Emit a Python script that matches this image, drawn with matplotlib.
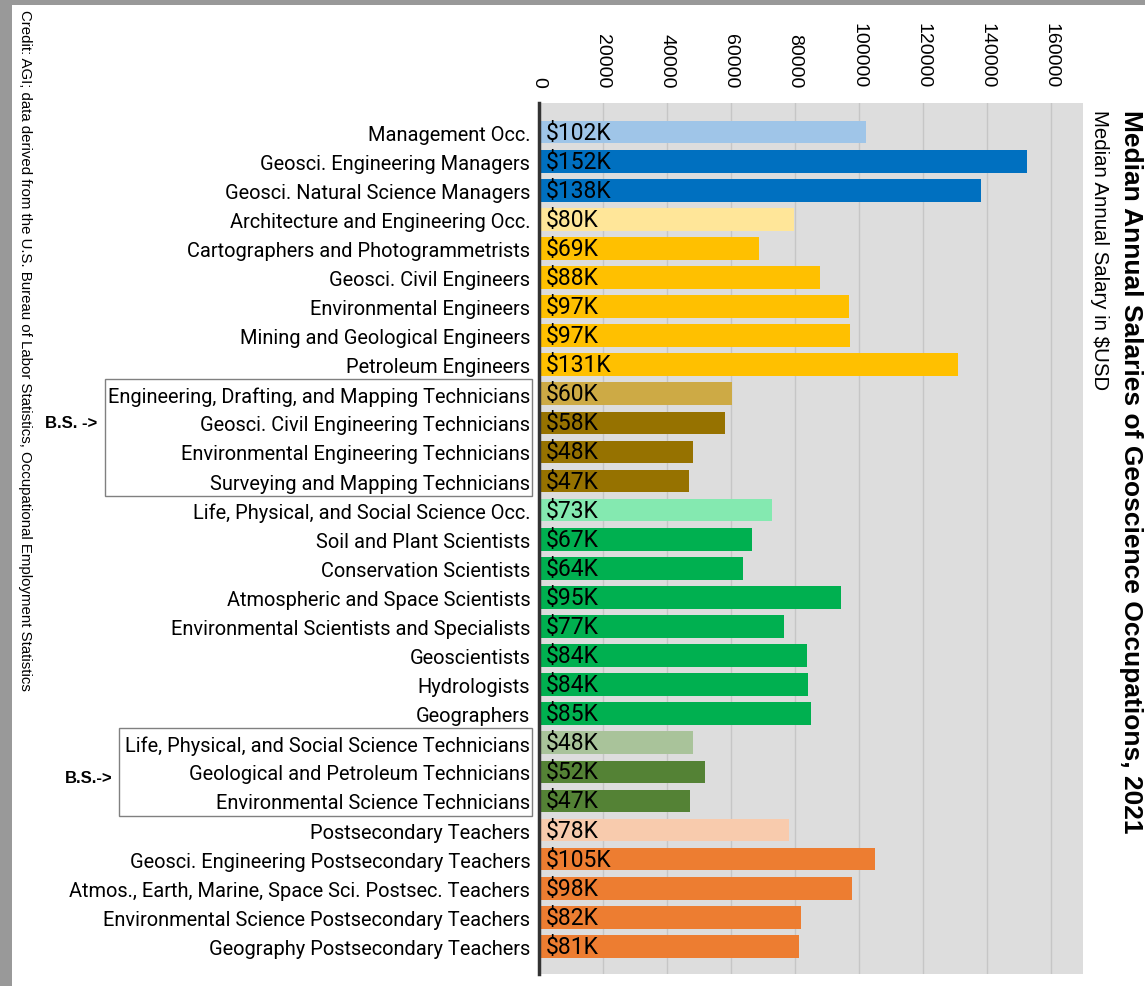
import matplotlib
matplotlib.use("Agg")
import matplotlib.pyplot as plt
from matplotlib.patches import Rectangle
import matplotlib.transforms as mtransforms

# ---------------- data ----------------
categories = [
    "Management Occ.",
    "Geosci. Engineering Managers",
    "Geosci. Natural Science Managers",
    "Architecture and Engineering Occ.",
    "Cartographers and Photogrammetrists",
    "Geosci. Civil Engineers",
    "Environmental Engineers",
    "Mining and Geological Engineers",
    "Petroleum Engineers",
    "Engineering, Drafting, and Mapping Technicians",
    "Geosci. Civil Engineering Technicians",
    "Environmental Engineering Technicians",
    "Surveying and Mapping Technicians",
    "Life, Physical, and Social Science Occ.",
    "Soil and Plant Scientists",
    "Conservation Scientists",
    "Atmospheric and Space Scientists",
    "Environmental Scientists and Specialists",
    "Geoscientists",
    "Hydrologists",
    "Geographers",
    "Life, Physical, and Social Science Technicians",
    "Geological and Petroleum Technicians",
    "Environmental Science Technicians",
    "Postsecondary Teachers",
    "Geosci. Engineering Postsecondary Teachers",
    "Atmos., Earth, Marine, Space Sci. Postsec. Teachers",
    "Environmental Science Postsecondary Teachers",
    "Geography Postsecondary Teachers",
]
salaries = [
    102400, 152400, 138100, 79800, 68900, 87900, 97000, 97100, 130900,
    60400, 58300, 48300, 47000,
    72800, 66700, 63900, 94600, 76500, 83700, 84000, 85100,
    48300, 52100, 47300,
    78200, 105100, 98000, 82000, 81300,
]
value_labels = ["$102K", "$152K", "$138K", "$80K", "$69K", "$88K", "$97K", "$97K", "$131K",
                "$60K", "$58K", "$48K", "$47K",
                "$73K", "$67K", "$64K", "$95K", "$77K", "$84K", "$84K", "$85K",
                "$48K", "$52K", "$47K",
                "$78K", "$105K", "$98K", "$82K", "$81K"]
bar_colors = [
    "#9fc5e8", "#0070c0", "#0070c0",
    "#ffe699", "#ffc000", "#ffc000", "#ffc000", "#ffc000", "#ffc000",
    "#cdaa45", "#967200", "#967200", "#967200",
    "#84e9b0", "#00b050", "#00b050", "#00b050", "#00b050", "#00b050", "#00b050", "#00b050",
    "#a9c39a", "#548235", "#548235",
    "#f8cbad", "#ed7d31", "#ed7d31", "#ed7d31", "#ed7d31",
]
x_ticks = [0, 20000, 40000, 60000, 80000, 100000, 120000, 140000, 160000]
bs_groups = [(9, 12, "B.S. ->"), (21, 23, "B.S.->")]

title = "Median Annual Salaries of Geoscience Occupations, 2021"
subtitle = "Median Annual Salary in $USD"
credit = ("Credit: AGI; data derived from the U.S. Bureau of Labor Statistics, "
          "Occupational Employment Statistics")

# ---------------- figure ----------------
W, H = 1145, 987
fig = plt.figure(figsize=(W / 100, H / 100), dpi=100)
fig.patch.set_facecolor("white")

ax = fig.add_axes([538.5 / W, 1 - 975 / H, (1083 - 538.5) / W, (975 - 104) / H])
ax.set_facecolor("#dddddd")

ypos = list(range(len(categories)))
ax.barh(ypos, salaries, height=0.78, color=bar_colors, zorder=3)
for y, lab in zip(ypos, value_labels):
    ax.annotate(lab, xy=(0, y), xytext=(5.5, 0), textcoords="offset points",
                ha="left", va="center", fontsize=16.5, family="Roboto",
                color="black", zorder=4)

ax.set_xlim(0, 170000)
ax.set_ylim(len(categories) - 0.05, -1.0)
ax.set_xticks(x_ticks)
ax.set_xticklabels([str(t) for t in x_ticks], family="Liberation Sans", fontsize=14)
ax.xaxis.tick_top()
ax.tick_params(axis="x", length=0, pad=11.5, labelrotation=-90)
ax.set_yticks(ypos)
ax.set_yticklabels(categories, family="Roboto", fontsize=14.4)
ax.tick_params(axis="y", length=0, pad=6)
ax.grid(axis="x", color="#c6c6c6", linewidth=1, zorder=1)
ax.set_axisbelow(True)
for s in ("top", "right", "bottom"):
    ax.spines[s].set_visible(False)
ax.spines["left"].set_color("#333333")
ax.spines["left"].set_linewidth(2.5)
ax.spines["left"].set_zorder(5)

# group boxes around B.S. technician labels
trans = mtransforms.blended_transform_factory(fig.transFigure, ax.transData)
box_left = [105 / W, 119 / W]
bs_x = [97 / W, 113 / W]
bs_y = [10, 22.2]
for (a, b, txt), bl, tx, ty in zip(bs_groups, box_left, bs_x, bs_y):
    rect = Rectangle((bl, a - 0.5), 532 / W - bl, (b - a) + 1.0, transform=trans,
                     fill=False, edgecolor="#808080", linewidth=1.0, clip_on=False)
    fig.patches.append(rect)
    ax.text(tx, ty, txt, transform=trans, ha="right", va="center",
            fontsize=12, fontweight="bold", family="Liberation Sans")

# titles (rotated)
fig.text(1131 / W, 1 - 110 / H, title, rotation=-90, ha="center", va="top",
         fontsize=19.0, fontweight="bold", family="Liberation Sans")
fig.text(1099 / W, 1 - 110 / H, subtitle, rotation=-90, ha="center", va="top",
         fontsize=14.7, family="Liberation Sans")
fig.text(25 / W, 1 - 10 / H, credit, rotation=-90, ha="center", va="top",
         fontsize=10.8, family="Liberation Sans")

# gray frame
fig.patches.append(Rectangle((0, 1 - 6 / H), 1, 6 / H, transform=fig.transFigure,
                             facecolor="#999999", edgecolor="none", zorder=0))
fig.patches.append(Rectangle((0, 0), 12 / W, 1, transform=fig.transFigure,
                             facecolor="#999999", edgecolor="none", zorder=0))

fig.savefig("out.png", dpi=100)
